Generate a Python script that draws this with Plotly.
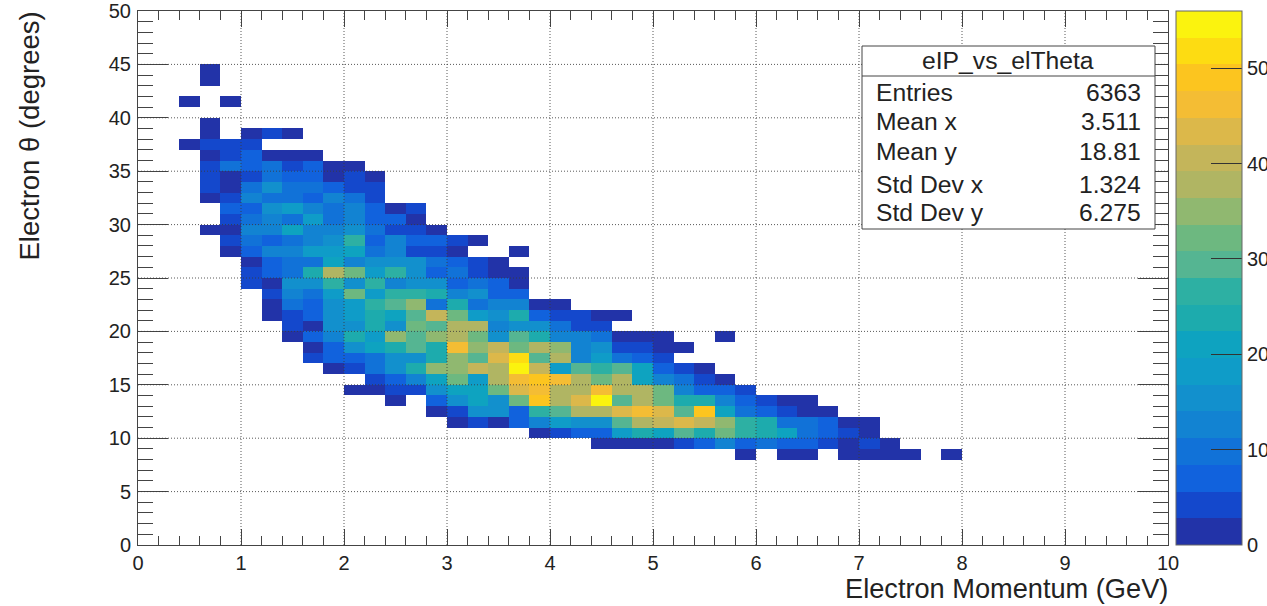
import plotly.graph_objects as go

# Histogram binning: 50 x 50 bins
momentum_edges = [i * 0.2 for i in range(51)]
theta_edges = list(range(51))

# Each row: theta bin (lower edge, degrees), first occupied momentum bin, counts
row_44 = (44, 3, [1])
row_43 = (43, 3, [1])
row_41 = (41, 2, [1, None, 1])
row_39 = (39, 3, [1])
row_38 = (38, 3, [1, None, 1, 4, 1])
row_37 = (37, 2, [1, 4, 4, 4])
row_36 = (36, 3, [1, 4, 7, 1, 1, 1])
row_35 = (35, 3, [4, 10, 7, 10, 4, 7, 1, 1])
row_34 = (34, 3, [4, 1, 4, 10, 7, 7, 1, 4, 1])
row_33 = (33, 3, [4, 1, 10, 15, 10, 10, 7, 4, 4])
row_32 = (32, 3, [1, 4, 13, 10, 10, 7, 13, 10, 4])
row_31 = (31, 4, [7, 7, 15, 18, 13, 10, 13, 7, 1, 4])
row_30 = (30, 4, [4, 10, 13, 10, 18, 10, 13, 7, 7, 1])
row_29 = (29, 3, [1, 1, 13, 13, 21, 13, 13, 15, 10, 4, 4, 1])
row_28 = (28, 4, [4, 10, 7, 10, 13, 15, 27, 7, 13, 7, 7, 4, 1])
row_27 = (27, 4, [1, 7, 13, 13, 18, 18, 21, 10, 13, 4, 4, 1, None, None, 1])
row_26 = (26, 5, [1, 7, 10, 10, 21, 13, 15, 15, 15, 10, 7, 4, 1])
row_25 = (25, 5, [4, 7, 10, 24, 38, 32, 18, 27, 15, 7, 10, 4, 1, 1])
row_24 = (24, 5, [4, 1, 15, 15, 27, 15, 27, 13, 15, 15, 7, 10, 7, 1])
row_23 = (23, 6, [4, 13, 10, 18, 32, 18, 27, 27, 24, 13, 15, 7, 7])
row_22 = (22, 6, [1, 10, 7, 15, 18, 27, 29, 35, 10, 24, 10, 13, 13, 1, 1])
row_21 = (21, 6, [1, 4, 7, 15, 18, 24, 21, 29, 41, 32, 18, 15, 24, 7, 4, 4, 1, 1])
row_20 = (20, 7, [4, 1, 15, 15, 24, 15, 32, 29, 38, 38, 13, 15, 15, 10, 4, 4])
row_19 = (19, 7, [1, 7, 13, 24, 18, 35, 29, 35, 38, 32, 15, 29, 24, 13, 13, 10, 1, 1, 1, None, None, 1])
row_18 = (18, 8, [1, 7, 15, 21, 24, 29, 24, 46, 35, 41, 32, 38, 35, 13, 15, 4, 4, 1, 1])
row_17 = (17, 8, [4, 7, 7, 10, 15, 15, 24, 35, 29, 43, 52, 29, 38, 13, 18, 10, 7, 4])
row_16 = (16, 9, [1, 4, 10, 15, 24, 35, 35, 41, 38, 55, 41, 18, 29, 27, 29, 21, 7, 4, 1])
row_15 = (15, 11, [4, 7, 13, 21, 32, 18, 38, 46, 49, 46, 38, 32, 38, 21, 13, 10, 4, 1])
row_14 = (14, 10, [1, 1, 4, 4, 15, 21, 21, 32, 43, 46, 38, 38, 46, 38, 38, 32, 13, 7, 7, 4])
row_13 = (13, 12, [1, None, 7, 15, 21, 15, 32, 49, 38, 43, 55, 29, 38, 32, 24, 24, 13, 7, 4, 1, 1])
row_12 = (12, 14, [1, 4, 15, 15, 7, 27, 29, 38, 38, 43, 46, 43, 29, 49, 21, 10, 7, 4, 1, 1])
row_11 = (11, 15, [1, 4, 1, 7, 13, 18, 15, 15, 29, 38, 41, 43, 41, 35, 27, 24, 10, 10, 7, 1, 1])
row_10 = (10, 19, [1, 4, 7, 7, 18, 24, 21, 29, 24, 32, 27, 24, 21, 10, 7, 4, 1])
row_9 = (9, 22, [1, 1, 1, 1, 4, 7, 13, 7, 10, 7, 7, 4, 1, 4, 1])
row_8 = (8, 29, [1, None, 1, 1, None, 1, 1, 1, 1, None, 1])

rows = [row_44, row_43, row_41, row_39, row_38, row_37, row_36, row_35, row_34, row_33,
        row_32, row_31, row_30, row_29, row_28, row_27, row_26, row_25, row_24, row_23,
        row_22, row_21, row_20, row_19, row_18, row_17, row_16, row_15, row_14, row_13,
        row_12, row_11, row_10, row_9, row_8]

x_ticks = list(range(11))
y_ticks = list(range(0, 51, 5))
z_ticks = [0, 10, 20, 30, 40, 50]
z_max = 56

stats_title = "eIP_vs_elTheta"
stats_names = ["Entries", "Mean x", "Mean y", "Std Dev x", "Std Dev y"]
stats_values = ["6363", "3.511", "18.81", "1.324", "6.275"]

x_title = "Electron Momentum (GeV)"
y_title = "Electron θ (degrees)"

# 20-band palette as displayed on the colour bar (bottom to top)
bands = ["#2233a8", "#1448cc", "#1162dd", "#1172d8", "#1283d2", "#1290cd", "#0f9cc8", "#0ea3c0",
         "#1dabad", "#2db0a3", "#55b592", "#6db880", "#90b870", "#b0b563", "#c4b55a", "#dcb84a",
         "#f4bd34", "#fcc51f", "#fddc12", "#fbf30e"]

colorscale = []
for k, c in enumerate(bands):
    colorscale.append([k / len(bands), c])
    colorscale.append([(k + 1) / len(bands), c])

# Build the matrix
z = [[None] * 50 for _ in range(50)]
for theta, first, vals in rows:
    for k, v in enumerate(vals):
        z[theta][first + k] = v

x_centers = [(momentum_edges[i] + momentum_edges[i + 1]) / 2 for i in range(50)]
y_centers = [(theta_edges[i] + theta_edges[i + 1]) / 2 for i in range(50)]

FONT = "Liberation Sans"
W, H = 1267, 606
L, R, T, B = 138, 1168, 11, 545
INK = "#222222"


def px(x):
    return (x - L) / (R - L)


def py(y):
    return (B - y) / (B - T)


fig = go.Figure(go.Heatmap(
    x=x_centers, y=y_centers, z=z, zmin=0, zmax=z_max,
    colorscale=colorscale, hoverongaps=False,
    colorbar=dict(
        x=px(1176), xref="paper", xanchor="left", xpad=0,
        y=0, yref="paper", yanchor="bottom", ypad=0,
        thickness=66, thicknessmode="pixels", len=534, lenmode="pixels",
        outlinewidth=1, outlinecolor="#666666",
        ticks="inside", ticklen=31, tickcolor="#333333", tickwidth=1,
        tickvals=z_ticks, ticktext=[str(v) for v in z_ticks],
        tickfont=dict(family=FONT, size=20, color=INK),
    ),
))

axis_common = dict(
    showline=True, linecolor="#444444", linewidth=1, mirror="ticks",
    showgrid=False, zeroline=False, ticks="inside", tickcolor="#444444", tickwidth=1,
    tickfont=dict(family=FONT, size=20, color=INK),
)
fig.update_xaxes(range=[0, 10], tickvals=x_ticks, ticklen=16, ticklabelstandoff=0,
                 minor=dict(ticks="inside", ticklen=9, dtick=0.2, tick0=0, tickcolor="#444444", tickwidth=1),
                 **axis_common)
fig.update_yaxes(range=[0, 50], tickvals=y_ticks, ticklen=30, ticklabelstandoff=2,
                 minor=dict(ticks="inside", ticklen=15, dtick=1, tick0=0, tickcolor="#444444", tickwidth=1),
                 **axis_common)

shapes = []
grid_line = dict(color="rgba(60,60,60,0.85)", width=1, dash="1px,2px")
for v in x_ticks[1:-1]:
    shapes.append(dict(type="line", xref="x", yref="paper", x0=v, x1=v, y0=0, y1=1, line=grid_line))
for v in y_ticks[1:-1]:
    shapes.append(dict(type="line", xref="paper", yref="y", x0=0, x1=1, y0=v, y1=v, line=grid_line))

# Statistics box
box_l, box_r, box_t, box_b, box_head = 862, 1155, 46, 229, 76
shapes.append(dict(type="rect", xref="paper", yref="paper", x0=px(box_l), x1=px(box_r),
                   y0=py(box_b), y1=py(box_t), fillcolor="white", line=dict(color="#444444", width=1)))
shapes.append(dict(type="line", xref="paper", yref="paper", x0=px(box_l), x1=px(box_r),
                   y0=py(box_head), y1=py(box_head), line=dict(color="#444444", width=1)))

annotations = [dict(text=stats_title, xref="paper", yref="paper", x=px((box_l + box_r) / 2 - 1), y=py(60),
                    xanchor="center", yanchor="middle", showarrow=False,
                    font=dict(family=FONT, size=24.7, color=INK))]
for name, value, yp in zip(stats_names, stats_values, [92, 122, 151, 184, 212]):
    annotations.append(dict(text=name, xref="paper", yref="paper", x=px(874), y=py(yp), xanchor="left",
                            yanchor="middle", showarrow=False, font=dict(family=FONT, size=24.7, color=INK)))
    annotations.append(dict(text=value, xref="paper", yref="paper", x=px(1143), y=py(yp), xanchor="right",
                            yanchor="middle", showarrow=False, font=dict(family=FONT, size=24.7, color=INK)))

annotations.append(dict(text=x_title, xref="paper", yref="paper", x=px(1170), y=py(588), xanchor="right",
                        yanchor="middle", showarrow=False, font=dict(family=FONT, size=27.2, color=INK)))
annotations.append(dict(text=y_title, xref="paper", yref="paper", x=px(29), y=py(10), xanchor="center",
                        yanchor="top", textangle=-90, showarrow=False, font=dict(family=FONT, size=27.5, color=INK)))

fig.update_layout(
    width=W, height=H, autosize=False,
    margin=dict(l=L, r=W - R, t=T, b=H - B, autoexpand=False),
    paper_bgcolor="white", plot_bgcolor="white",
    shapes=shapes, annotations=annotations, showlegend=False,
)

fig.write_html("out.html", config={"displayModeBar": False},
               post_script="document.body.style.margin='0';document.documentElement.style.overflow='hidden';")
